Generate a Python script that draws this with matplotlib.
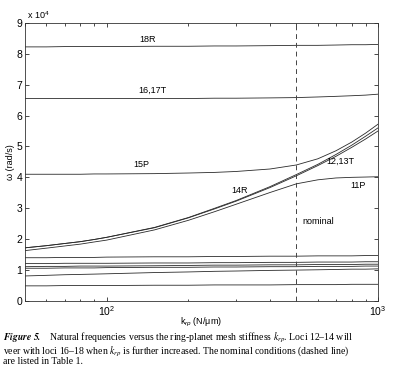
import matplotlib
matplotlib.use("Agg")
import matplotlib.pyplot as plt

plt.rcParams['font.family'] = ['Liberation Sans', 'DejaVu Sans']
plt.rcParams['mathtext.fontset'] = 'custom'
plt.rcParams['mathtext.rm'] = 'Liberation Sans'
plt.rcParams['mathtext.it'] = 'Liberation Sans:italic'

# stiffness k_rp (N/um)
k_rp = [50, 60, 70, 80, 90, 100, 150, 200, 250, 300, 400, 500, 600, 700, 800, 900, 1000]

# natural frequencies, units of 1e4 rad/s
w_18R = [8.22, 8.22, 8.23, 8.23, 8.23, 8.23, 8.24, 8.24, 8.25, 8.25, 8.26, 8.27, 8.27, 8.28, 8.29, 8.29, 8.30]
w_16_17T = [6.55, 6.55, 6.55, 6.55, 6.55, 6.55, 6.55, 6.55, 6.56, 6.56, 6.57, 6.58, 6.60, 6.62, 6.64, 6.66, 6.69]
w_15P = [4.10, 4.10, 4.10, 4.10, 4.11, 4.11, 4.12, 4.14, 4.16, 4.19, 4.27, 4.40, 4.60, 4.86, 5.14, 5.43, 5.72]
w_12_13T = [1.72, 1.79, 1.86, 1.92, 1.99, 2.06, 2.38, 2.70, 3.00, 3.25, 3.70, 4.09, 4.42, 4.74, 5.04, 5.33, 5.60]
w_14R = [1.72, 1.79, 1.86, 1.92, 1.99, 2.06, 2.37, 2.69, 2.98, 3.23, 3.67, 4.05, 4.38, 4.68, 4.97, 5.24, 5.50]
w_11P = [1.63, 1.71, 1.78, 1.84, 1.91, 1.97, 2.30, 2.61, 2.89, 3.13, 3.51, 3.79, 3.92, 3.98, 4.00, 4.01, 4.02]
w_low1 = [1.40, 1.40, 1.41, 1.41, 1.41, 1.42, 1.43, 1.43, 1.44, 1.44, 1.45, 1.45, 1.46, 1.46, 1.46, 1.47, 1.47]
w_low2 = [1.21, 1.21, 1.22, 1.22, 1.22, 1.22, 1.23, 1.23, 1.24, 1.24, 1.25, 1.25, 1.26, 1.26, 1.26, 1.27, 1.27]
w_low3 = [1.11, 1.12, 1.12, 1.13, 1.13, 1.13, 1.14, 1.15, 1.16, 1.16, 1.17, 1.17, 1.18, 1.18, 1.18, 1.19, 1.19]
w_low4 = [1.06, 1.06, 1.07, 1.07, 1.07, 1.08, 1.09, 1.09, 1.10, 1.10, 1.11, 1.11, 1.12, 1.12, 1.12, 1.13, 1.13]
w_low5 = [0.81, 0.83, 0.85, 0.86, 0.87, 0.88, 0.92, 0.94, 0.96, 0.97, 0.99, 1.00, 1.01, 1.02, 1.03, 1.03, 1.04]
w_low6 = [0.49, 0.49, 0.50, 0.50, 0.50, 0.50, 0.51, 0.51, 0.52, 0.52, 0.52, 0.53, 0.53, 0.53, 0.54, 0.54, 0.54]

k_nominal = 500

# locus labels: (text, k, omega)
labels = [("18R", 141, 8.45), ("16,17T", 147, 6.8), ("15P", 134, 4.40),
          ("14R", 310, 3.57), ("12,13T", 724, 4.51), ("11P", 844, 3.73),
          ("nominal", 601, 2.57)]

fig = plt.figure(figsize=(3.95, 3.86), dpi=100)
ax = fig.add_axes([0.0633, 0.2202, 0.8937, 0.7208])

all_loci = [w_18R, w_16_17T, w_15P, w_12_13T, w_14R, w_11P,
            w_low1, w_low2, w_low3, w_low4, w_low5, w_low6]
for w in all_loci:
    ax.plot(k_rp, w, color='#2a2a2a', lw=0.6)

ax.axvline(k_nominal, color='#444444', lw=0.7, ls=(0, (5, 4)))

for txt, x, y in labels:
    ax.text(x, y, txt, fontsize=6.5, ha='center', va='center')

ax.set_xscale('log')
ax.set_xlim(50, 1000)
ax.set_ylim(0, 9)
ax.set_yticks(range(10))
ax.tick_params(which='both', direction='in', top=True, right=True,
               labelsize=7.5, width=0.5, pad=2)
ax.tick_params(which='major', length=3)
ax.tick_params(which='minor', length=1.8)
for s in ax.spines.values():
    s.set_linewidth(0.6)
    s.set_color('#333333')

ax.text(0.005, 1.005, r'x 10$^4$', transform=ax.transAxes, fontsize=6.5,
        ha='left', va='bottom')
ax.set_ylabel('\u03c9 (rad/s)', fontsize=6.5, labelpad=1)
ax.set_xlabel('k$_{rp}$ (N/\u03bcm)', fontsize=6.5, labelpad=-1)

# caption as one multi-line text (mathtext is parsed line by line)
caption = (r'$\mathbfit{Figure\ 5.}$   Natural frequencies versus the ring-planet '
           'mesh stiffness $k_{rp}$. Loci 12\u201314 will\n'
           'veer with loci 16\u201318 when $k_{rp}$ is further increased. '
           'The nominal conditions (dashed line)\n'
           'are listed in Table 1.')
fig.text(0.008, 0.142, caption, fontsize=7.0,
         family=['Liberation Serif', 'DejaVu Serif'], math_fontfamily='stix',
         va='top', ha='left', linespacing=0.85)

fig.savefig('out.png', dpi=100)
